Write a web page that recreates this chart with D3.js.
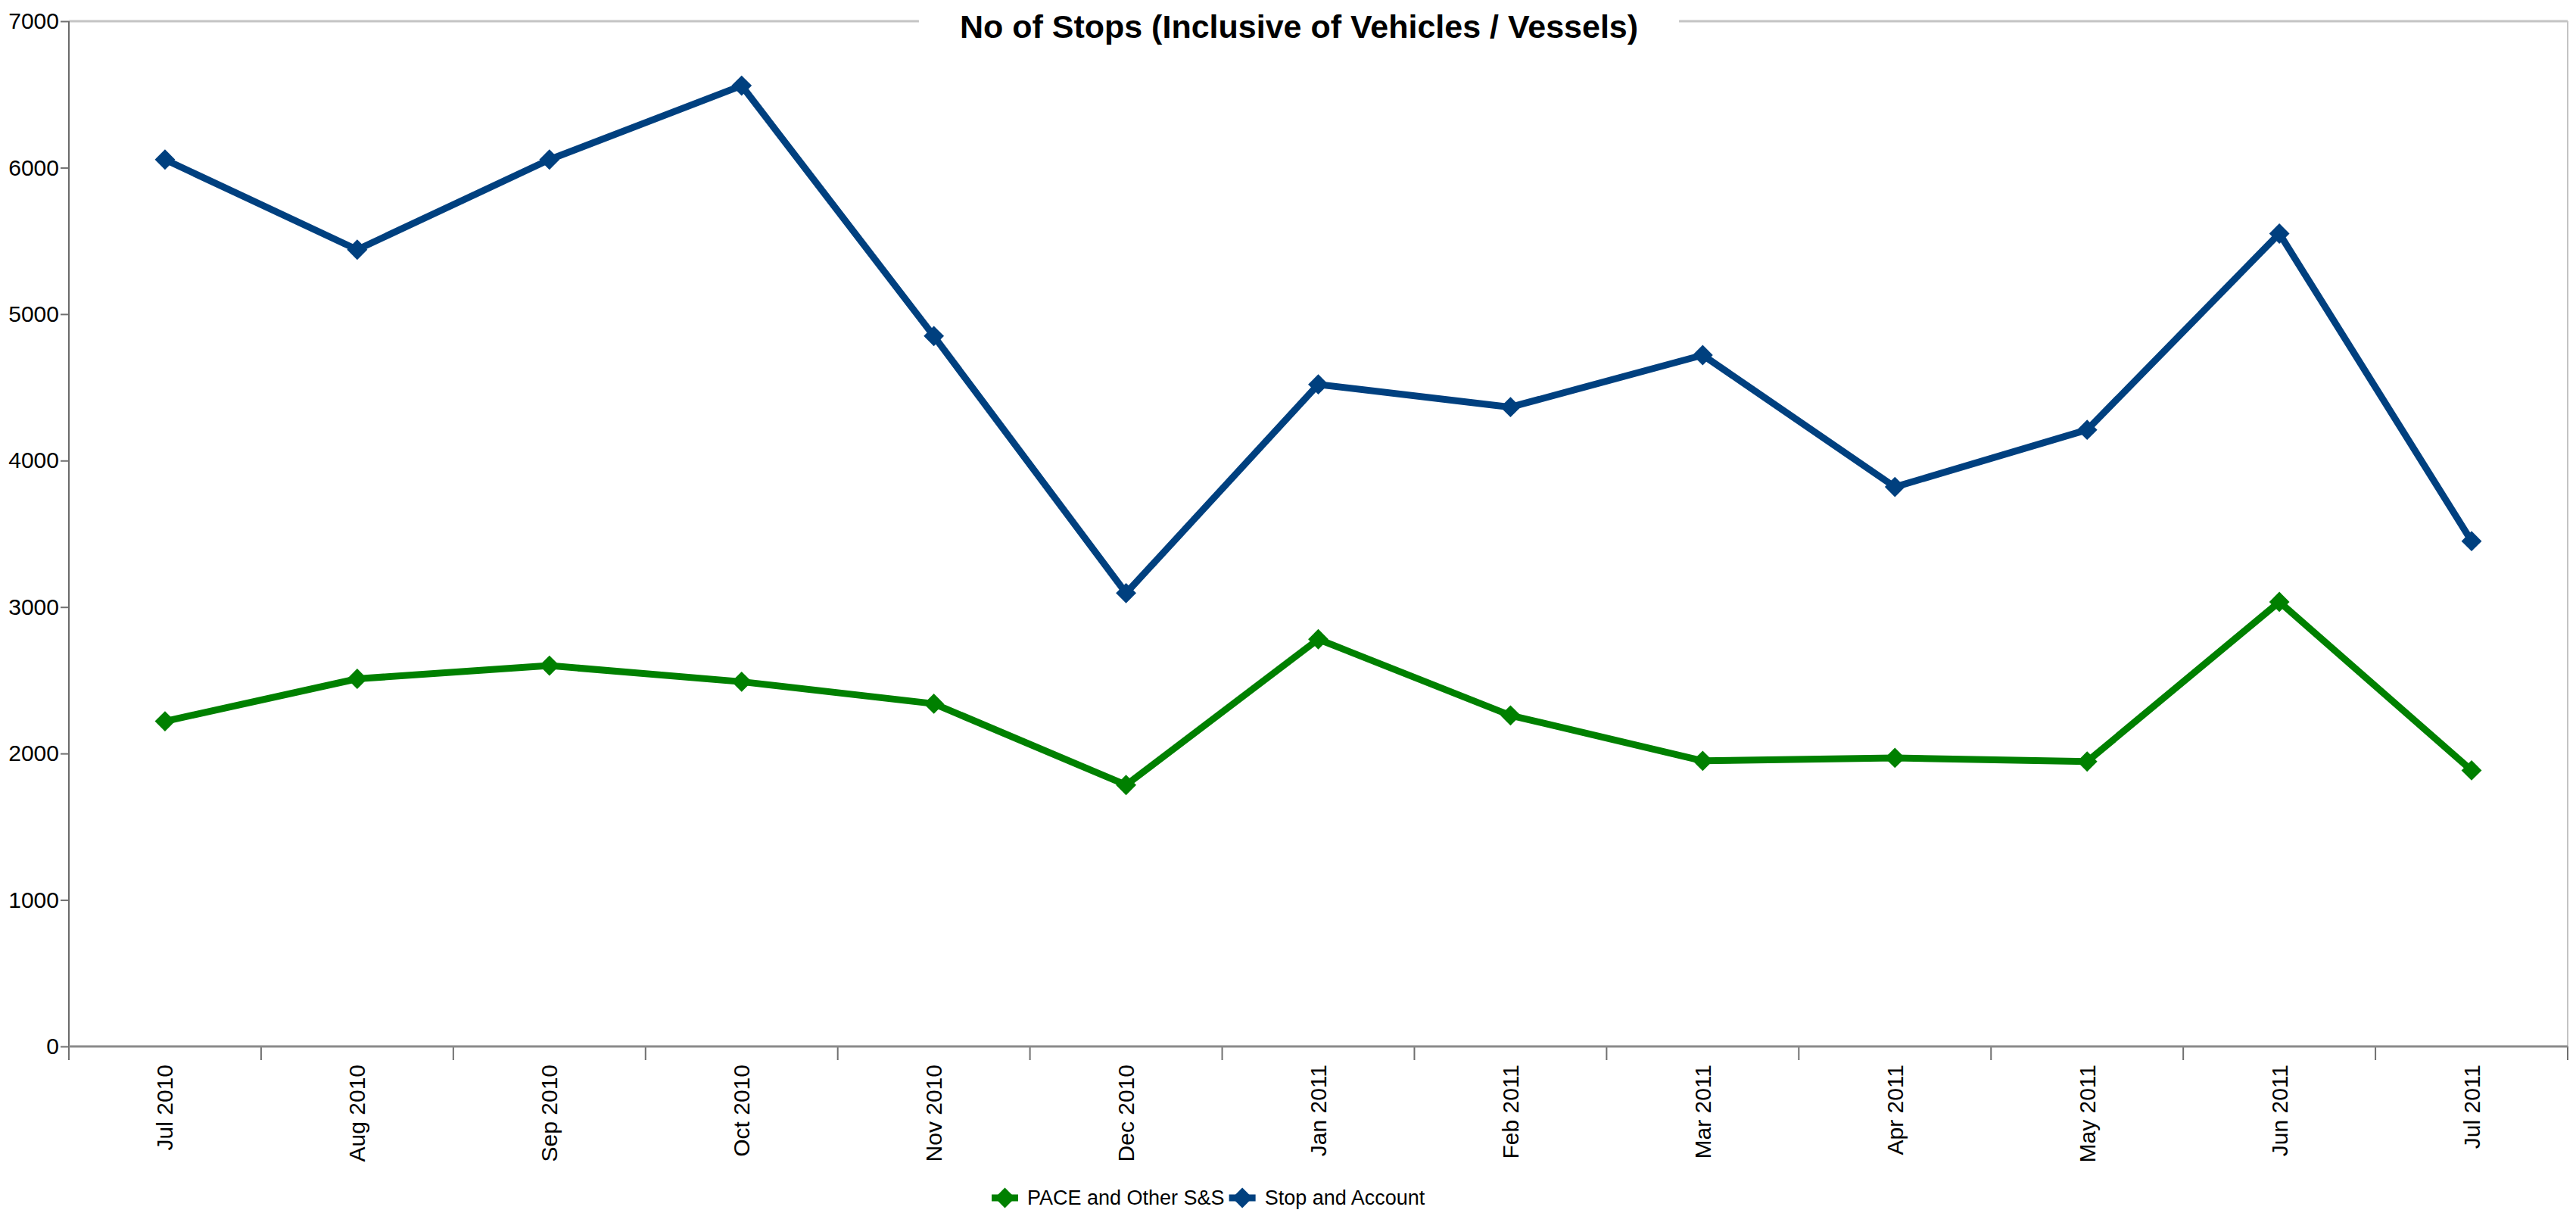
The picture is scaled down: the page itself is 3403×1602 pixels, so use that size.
<!DOCTYPE html>
<html>
<head>
<meta charset="utf-8">
<script src="https://cdn.jsdelivr.net/npm/d3@7"></script>
<style>
  body { margin: 0; background: #fff; }
  text { font-family: "Liberation Sans", Arial, sans-serif; fill: #000; }
</style>
</head>
<body>
<svg id="chart" width="3403" height="1602"></svg>
<script>
// categories and series
var months = ["Jul 2010", "Aug 2010", "Sep 2010", "Oct 2010", "Nov 2010", "Dec 2010",
              "Jan 2011", "Feb 2011", "Mar 2011", "Apr 2011", "May 2011", "Jun 2011", "Jul 2011"];
var paceOther = [2220, 2510, 2600, 2490, 2340, 1785, 2780, 2260, 1950, 1970, 1945, 3035, 1885];
var stopAccount = [6055, 5440, 6055, 6560, 4850, 3095, 4520, 4365, 4720, 3820, 4210, 5550, 3450];
var yTicks = [0, 1000, 2000, 3000, 4000, 5000, 6000, 7000];

var series = [
  { name: "PACE and Other S&S", values: paceOther, color: "#008000" },
  { name: "Stop and Account", values: stopAccount, color: "#00407f" }
];

var svg = d3.select("#chart");
var plotLeft = 91, plotRight = 3392, plotTop = 28, plotBottom = 1382;

var x = d3.scaleBand().domain(months).range([plotLeft, plotRight]).padding(0);
var y = d3.scaleLinear().domain([0, 7000]).range([plotBottom, plotTop]);

// plot frame: light top and right border
svg.append("line").attr("x1", plotLeft).attr("x2", plotRight).attr("y1", y(7000)).attr("y2", y(7000))
  .attr("stroke", "#c4c4c4").attr("stroke-width", 3);
svg.append("line").attr("x1", plotRight).attr("x2", plotRight).attr("y1", y(7000)).attr("y2", plotBottom)
  .attr("stroke", "#c4c4c4").attr("stroke-width", 2);

///////////////////////////////////////////////////////////////////////////////
// Title (white box breaks the top border)

var titleBox = svg.append("rect").attr("fill", "#fff");
var title = svg.append("text")
  .attr("x", 1716).attr("y", 50)
  .attr("text-anchor", "middle")
  .style("font-size", "43px").style("font-weight", "bold")
  .text("No of Stops (Inclusive of Vehicles / Vessels)");
var tb = title.node().getBBox();
titleBox.attr("x", tb.x - 54).attr("y", 0).attr("width", tb.width + 108).attr("height", 60);

///////////////////////////////////////////////////////////////////////////////
// Axes

var yAxis = svg.append("g").attr("transform", "translate(" + plotLeft + ",0)")
  .call(d3.axisLeft(y).tickValues(yTicks).tickSize(11).tickPadding(2).tickFormat(d3.format("d")));
yAxis.select(".domain").remove();
yAxis.selectAll(".tick line").attr("stroke", "#707070").attr("stroke-width", 2);
yAxis.selectAll("text").style("font-size", "30px");
svg.append("line").attr("x1", plotLeft).attr("x2", plotLeft).attr("y1", y(7000)).attr("y2", plotBottom + 18)
  .attr("stroke", "#6a6a6a").attr("stroke-width", 2);

var xAxis = svg.append("g").attr("transform", "translate(0," + plotBottom + ")")
  .call(d3.axisBottom(x).tickSize(0).tickPadding(28));
xAxis.select(".domain").remove();
xAxis.selectAll("text")
  .style("font-size", "30px")
  .attr("text-anchor", "end")
  .attr("transform", "rotate(-90)")
  .attr("x", -24).attr("y", 0).attr("dy", "0.35em");

// category boundary ticks
var bounds = months.map(function (m) { return x(m); }).concat([plotRight]);
svg.append("g").selectAll("line").data(bounds).join("line")
  .attr("x1", function (d) { return d; }).attr("x2", function (d) { return d; })
  .attr("y1", plotBottom).attr("y2", plotBottom + 18)
  .attr("stroke", "#707070").attr("stroke-width", 2);
svg.append("line").attr("x1", plotLeft).attr("x2", plotRight).attr("y1", plotBottom).attr("y2", plotBottom)
  .attr("stroke", "#8a8a8a").attr("stroke-width", 3);

///////////////////////////////////////////////////////////////////////////////
// Lines and markers

var line = d3.line()
  .x(function (d, i) { return x(months[i]) + x.bandwidth() / 2; })
  .y(function (d) { return y(d); });
var diamond = d3.symbol().type(d3.symbolSquare).size(360);

series.forEach(function (s) {
  svg.append("path").datum(s.values)
    .attr("d", line)
    .attr("fill", "none")
    .attr("stroke", s.color)
    .attr("stroke-width", 9)
    .attr("stroke-linejoin", "round");
  svg.append("g").selectAll("path").data(s.values).join("path")
    .attr("d", diamond)
    .attr("fill", s.color)
    .attr("transform", function (d, i) {
      return "translate(" + (x(months[i]) + x.bandwidth() / 2) + "," + y(d) + ") rotate(45)";
    });
});

///////////////////////////////////////////////////////////////////////////////
// Legend

var legend = svg.append("g").attr("transform", "translate(1310,1582)");
var lx = 0;
series.forEach(function (s) {
  var item = legend.append("g").attr("transform", "translate(" + lx + ",0)");
  item.append("line").attr("x1", 0).attr("x2", 35).attr("y1", 0).attr("y2", 0)
    .attr("stroke", s.color).attr("stroke-width", 9);
  item.append("path").attr("d", diamond).attr("fill", s.color)
    .attr("transform", "translate(17.5,0) rotate(45)");
  var t = item.append("text").attr("x", 47).attr("y", 0).attr("dy", "0.35em")
    .style("font-size", "27px").text(s.name);
  lx += 47 + t.node().getComputedTextLength() + 6;
});
</script>
</body>
</html>
